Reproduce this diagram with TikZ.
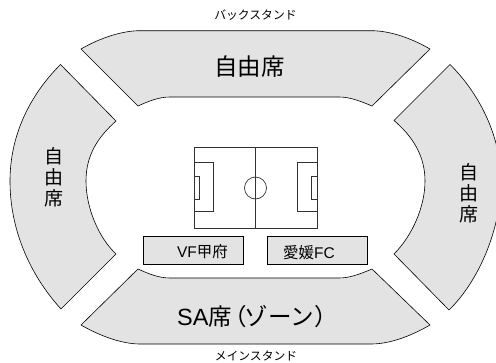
\documentclass[tikz,border=0pt]{standalone}
\usepackage{fontspec}
\setmainfont{Liberation Sans}
\newfontfamily\cjk{Noto Sans CJK JP}
\usetikzlibrary{calc}
\definecolor{seatgray}{HTML}{E3E3E3}
\tikzset{
    seat/.style={draw=black,fill=seatgray,line width=0.6pt,line join=miter},
    pitch/.style={draw=black!80,line width=0.7pt},
    seatlabel/.style={inner sep=0pt,font=\cjk\fontsize{23.5}{24}\selectfont},
    sidelabel/.style={inner sep=0pt,align=center,font=\cjk\fontsize{19}{21}\selectfont},
    standlabel/.style={inner sep=0pt,font=\cjk\fontsize{11.8}{12}\selectfont},
    teamlabel/.style={inner sep=0pt,font=\fontsize{15.5}{16}\selectfont}
}
\begin{document}
\begin{tikzpicture}[x=1pt,y=-1pt]
\useasboundingbox (0,0) rectangle (496,362);
% stands
\draw[seat] (81,49) .. controls (100,38) and (122,30.7) .. (140,30.7) -- (371,30.7)
    .. controls (390,30.7) and (411,38) .. (430,49) -- (372,106)
    .. controls (360,101) and (350,97) .. (339,97) -- (170,97)
    .. controls (159,97) and (149,101) .. (138,106) -- cycle;
\draw[seat] (81,325) .. controls (100,336) and (122,344) .. (140,344) -- (371,344)
    .. controls (390,344) and (411,336) .. (430,325) -- (372,269)
    .. controls (360,274) and (350,278) .. (339,278) -- (170,278)
    .. controls (159,278) and (149,274) .. (138,269) -- cycle;
\draw[seat] (60.5,64.5) .. controls (30,95) and (10,135) .. (10,181)
    .. controls (10,230) and (30,275) .. (61,309) -- (116,254)
    .. controls (98,237) and (86,207) .. (86,181)
    .. controls (86,155) and (98,137) .. (116,121) -- cycle;
\draw[seat] (450,64.5) .. controls (478,92) and (501,135) .. (501,181)
    .. controls (501,230) and (478,282) .. (449,310) -- (394,254)
    .. controls (412,236) and (425,207) .. (425,181)
    .. controls (425,155) and (412,136) .. (394,120.5) -- cycle;
% field
\draw[pitch] (194,147) rectangle (317.3,228);
\draw[pitch] (255.5,147) -- (255.5,228);
\draw[pitch] (255.5,188) circle (11);
\draw[pitch] (194,162.7) rectangle (213.7,211.7);
\draw[pitch] (194,176) rectangle (199.5,199);
\draw[pitch] (317.3,162.7) rectangle (297,211.7);
\draw[pitch] (317.3,176) rectangle (311,199);
% teams
\draw[seat] (143.3,236.3) rectangle (243.7,264.3);
\draw[seat] (267.7,236.3) rectangle (367.7,264.3);
\node[teamlabel] (kofu) at (202.5,252) {VF{\cjk 甲府}};
\node[teamlabel] (ehime) at (309,253) {{\cjk 愛媛}FC};
% labels
\node[seatlabel] (back) at (249.5,67) {自由席};
\node[seatlabel,anchor=west] (main) at (177,317) {\fontspec{Liberation Sans}SA{\cjk 席\kern-.35em（\kern-.1emゾーン）}};
\node[sidelabel] (left) at (54.5,177) {自\\由\\席};
\node[sidelabel] (right) at (469,193.5) {自\\由\\席};
\node[standlabel] (backstand) at (255.5,15) {バックスタンド};
\node[standlabel] (mainstand) at (256,356) {メインスタンド};
\end{tikzpicture}
\end{document}
